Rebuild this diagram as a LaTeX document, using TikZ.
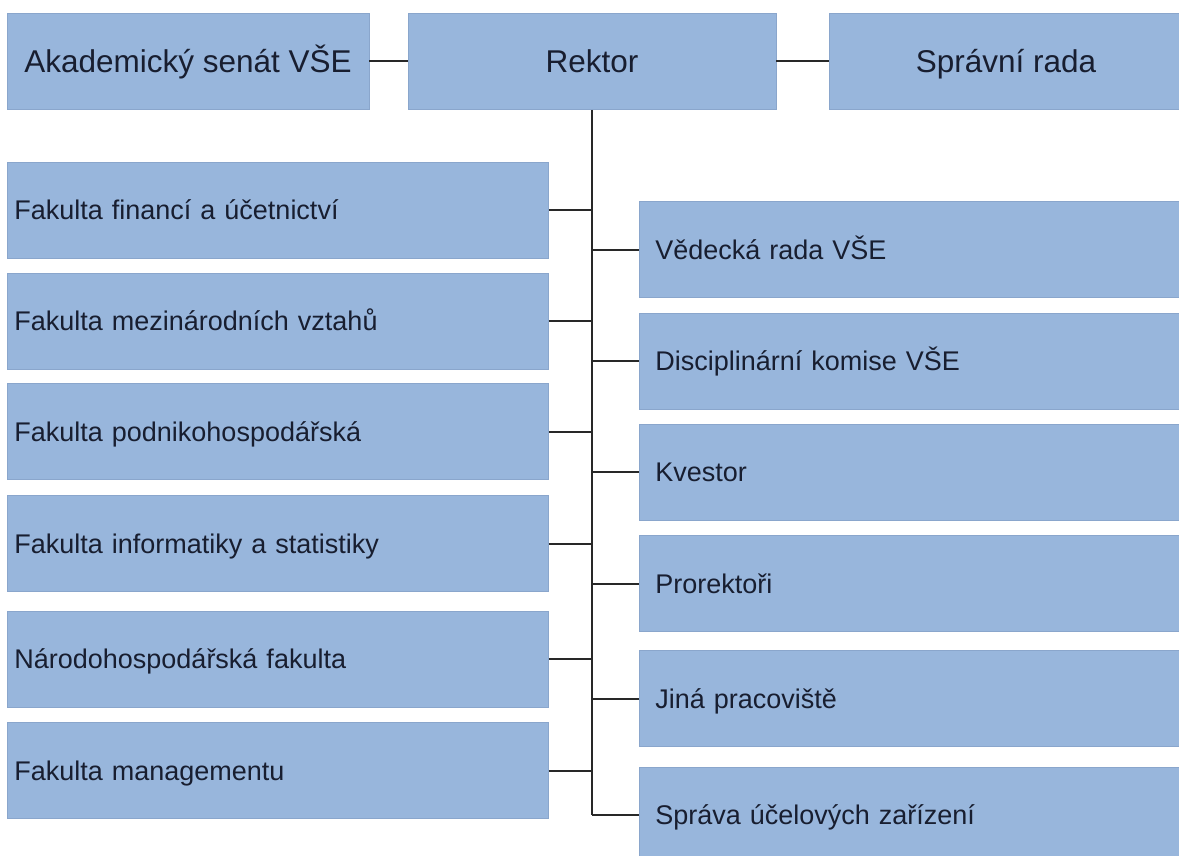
\documentclass[tikz,border=0pt]{standalone}
\usepackage{fontspec}
\setmainfont{Liberation Sans}
\definecolor{unitfill}{RGB}{152,182,220}
\definecolor{unitedge}{RGB}{138,166,204}
\definecolor{unittext}{RGB}{24,30,48}
\definecolor{linkgray}{RGB}{40,40,40}
\tikzstyle{unit}=[rectangle, fill=unitfill, draw=unitedge, line width=0.8pt, text=unittext, minimum height=96pt, inner ysep=0pt]
\tikzstyle{head}=[unit, font=\fontsize{31.5}{37}\selectfont, text height=28pt, text depth=5.4pt]
\tikzstyle{faculty}=[unit, anchor=west, inner xsep=7pt, text width=527pt, align=left, font=\fontsize{27}{32}\selectfont, text height=24pt, text depth=4.6pt]
\tikzstyle{office}=[unit, anchor=west, inner xsep=16pt, text width=512pt, align=left, font=\fontsize{27}{32}\selectfont, text height=24pt, text depth=4.6pt]
\tikzstyle{link}=[draw=linkgray, line width=2pt]
\newcommand{\faculty}{\node[faculty]}
\newcommand{\office}{\node[office]}

\begin{document}
\begin{tikzpicture}[x=1pt, y=-1pt]
\useasboundingbox (0,0) rectangle (1179,856);
\clip (0,0) rectangle (1179,856);
%top row
\node[head, minimum width=362pt] (senat) at (188,61.5){Akademický senát VŠE};
\node[head, minimum width=368pt] (rektor) at (592,61.5){Rektor};
\node[head, minimum width=354pt] (rada) at (1006,61.5){Správní rada};
%faculties
\foreach \i/\y/\name in {1/210/{Fakulta financí a účetnictví}, 2/321/{Fakulta mezinárodních vztahů},
	3/431.5/{Fakulta podnikohospodářská}, 4/543.5/{Fakulta informatiky a statistiky},
	5/659/{Národohospodářská fakulta}, 6/770.5/{Fakulta managementu}}{
	\faculty (f\i) at (7,\y){\name};}
%offices
\foreach \i/\y/\name in {1/249.5/{Vědecká rada VŠE}, 2/361/{Disciplinární komise VŠE},
	3/472/{Kvestor}, 4/583.5/{Prorektoři},
	5/698.5/{Jiná pracoviště}, 6/815/{Správa účelových zařízení}}{
	\office (o\i) at (639,\y){\name};}
%links
\draw[link] (senat) -- (rektor);
\draw[link] (rektor) -- (rada);
\draw[link] (rektor.south) -- (rektor.south |- o6.west);
\foreach \i in {1,...,6}{
	\draw[link] (f\i.east) -- (f\i.east -| rektor.south);
	\draw[link] (o\i.west) -- (o\i.west -| rektor.south);}
\end{tikzpicture}
\end{document}
